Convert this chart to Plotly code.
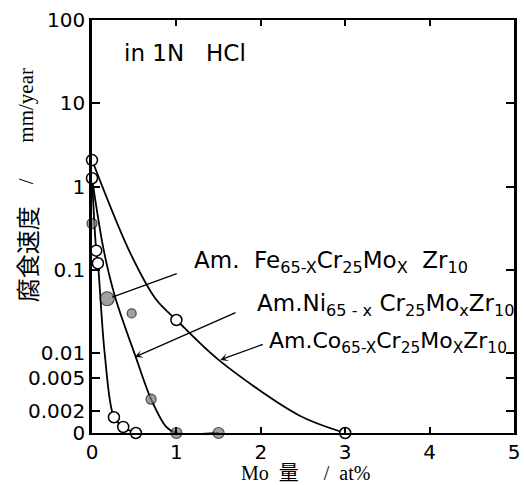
import math
import plotly.graph_objects as go

# ---- data (0 = "0" on the broken log axis) ----
ZERO_LEVEL = 0.0011

left_curve_x = [0, 0.05, 0.07, 0.15, 0.26, 0.37, 0.52]
left_curve_y = [1.26, 0.17, 0.12, 0.01, 0.0017, 0.0013, 0]

ni_curve_x = [0, 0.14, 0.28, 0.52, 0.70, 0.88, 1.0, 1.5]
ni_curve_y = [1.26, 0.17, 0.045, 0.0089, 0.0028, 0.0013, 0, 0]

co_curve_x = [0, 0.44, 0.76, 1.0, 1.5, 2.45, 3.0]
co_curve_y = [2.08, 0.17, 0.044, 0.025, 0.0083, 0.0018, 0]

open_x = [0, 0, 0.05, 0.07, 0.26, 0.37, 0.52, 1.0, 3.0]
open_y = [2.08, 1.26, 0.17, 0.12, 0.0017, 0.0013, 0, 0.025, 0]

shaded_x = [0.0, 0.18, 0.47, 0.70, 1.0, 1.5]
shaded_y = [0.36, 0.045, 0.030, 0.0028, 0, 0]
shaded_size = [10, 14, 9, 10, 11, 11]

y_tickvals = [100, 10, 1, 0.1, 0.01, 0.005, 0.002, ZERO_LEVEL]
y_ticktext = ["100", "10", "1", "0.1", "0.01", "0.005", "0.002", "0"]
x_tickvals = [0, 1, 2, 3, 4, 5]


def z(vals):
    return [ZERO_LEVEL if v == 0 else v for v in vals]


fig = go.Figure()
line_style = dict(color="black", width=1.8, shape="spline", smoothing=0.9)
for xs, ys in [(left_curve_x, left_curve_y), (ni_curve_x, ni_curve_y), (co_curve_x, co_curve_y)]:
    fig.add_trace(go.Scatter(x=xs, y=z(ys), mode="lines", line=line_style,
                             showlegend=False, hoverinfo="skip", cliponaxis=False))

fig.add_trace(go.Scatter(x=open_x, y=z(open_y), mode="markers", showlegend=False,
                         marker=dict(symbol="circle", size=11, color="white",
                                     line=dict(color="black", width=1.5)),
                         cliponaxis=False))
fig.add_trace(go.Scatter(x=shaded_x, y=z(shaded_y), mode="markers", showlegend=False,
                         marker=dict(symbol="circle", size=shaded_size, color="#7a7a7a",
                                     line=dict(color="black", width=1.2)),
                         cliponaxis=False))

tick_font = dict(family="DejaVu Sans", size=20, color="black")
fig.update_xaxes(range=[0, 5], tickvals=x_tickvals, ticks="inside", ticklen=6,
                 tickwidth=1.5, tickcolor="black", showline=True, linecolor="black",
                 linewidth=2, mirror="ticks", showgrid=False, zeroline=False,
                 tickfont=tick_font, automargin=False)
fig.update_yaxes(type="log", range=[math.log10(ZERO_LEVEL), 2], tickvals=y_tickvals,
                 ticktext=y_ticktext, ticks="inside", ticklen=8, tickwidth=1.5,
                 tickcolor="black", showline=True, linecolor="black", linewidth=2.5,
                 mirror="ticks", showgrid=False, zeroline=False, tickfont=tick_font,
                 automargin=False)

label_font = dict(family="DejaVu Sans", size=23, color="black")
title_font = dict(family="Liberation Serif, Noto Sans CJK JP", size=21, color="black")
ann = [
    dict(text="in 1N   HCl", x=0.071, y=0.92, xref="paper", yref="paper",
         xanchor="left", yanchor="middle", showarrow=False,
         font=dict(family="DejaVu Sans", size=23, color="black")),
    dict(text="Am.  Fe<sub>65-X</sub>Cr<sub>25</sub>Mo<sub>X</sub>  Zr<sub>10</sub>",
         x=0.237, y=0.414, xref="paper", yref="paper", xanchor="left",
         yanchor="middle", showarrow=False, font=label_font),
    dict(text="Am.Ni<sub>65 - x</sub> Cr<sub>25</sub>Mo<sub>x</sub>Zr<sub>10</sub>",
         x=0.386, y=0.31, xref="paper", yref="paper", xanchor="left",
         yanchor="middle", showarrow=False, font=label_font),
    dict(text="Am.Co<sub>65-X</sub>Cr<sub>25</sub>Mo<sub>X</sub>Zr<sub>10</sub>",
         x=0.415, y=0.218, xref="paper", yref="paper", xanchor="left",
         yanchor="middle", showarrow=False,
         font=dict(family="DejaVu Sans", size=22, color="black")),
    # arrows (tips in data coords; log axis takes log10)
    dict(x=0.24, y=math.log10(0.047), xref="x", yref="y", ax=66, ay=-24,
         showarrow=True, arrowhead=0, arrowwidth=1.3, arrowcolor="black", text=""),
    dict(x=0.51, y=math.log10(0.009), xref="x", yref="y", ax=102, ay=-45,
         showarrow=True, arrowhead=3, arrowsize=1, arrowwidth=1.3, arrowcolor="black", text=""),
    dict(x=1.52, y=math.log10(0.0083), xref="x", yref="y", ax=44, ay=-16,
         showarrow=True, arrowhead=3, arrowsize=1, arrowwidth=1.3, arrowcolor="black", text=""),
    # y-axis title, in three pieces
    dict(text="腐食速度", x=-0.156, y=0.433, xref="paper", yref="paper",
         textangle=-90, showarrow=False, xanchor="center", yanchor="middle",
         font=dict(family="Noto Sans CJK JP", size=24, color="#000000")),
    dict(text="/", x=-0.156, y=0.61, xref="paper", yref="paper",
         textangle=-90, showarrow=False, xanchor="center", yanchor="middle",
         font=title_font),
    dict(text="mm/year", x=-0.156, y=0.793, xref="paper", yref="paper",
         textangle=-90, showarrow=False, xanchor="center", yanchor="middle",
         font=title_font),
    # x-axis title
    dict(text="Mo  量     /  at%", x=0.506, y=-0.097, xref="paper", yref="paper",
         showarrow=False, xanchor="center", yanchor="middle",
         font=dict(family="Liberation Serif, Noto Sans CJK JP", size=20, color="black")),
]

fig.update_layout(width=524, height=485, margin=dict(l=92, r=10, t=20, b=52),
                  plot_bgcolor="white", paper_bgcolor="white", annotations=ann,
                  showlegend=False)

# remove the browser's default 8px body margin so the figure fills the window
fig.write_html("out.html", config={"displayModeBar": False},
               post_script="document.body.style.margin='0';"
                           "document.body.style.overflow='hidden';")
